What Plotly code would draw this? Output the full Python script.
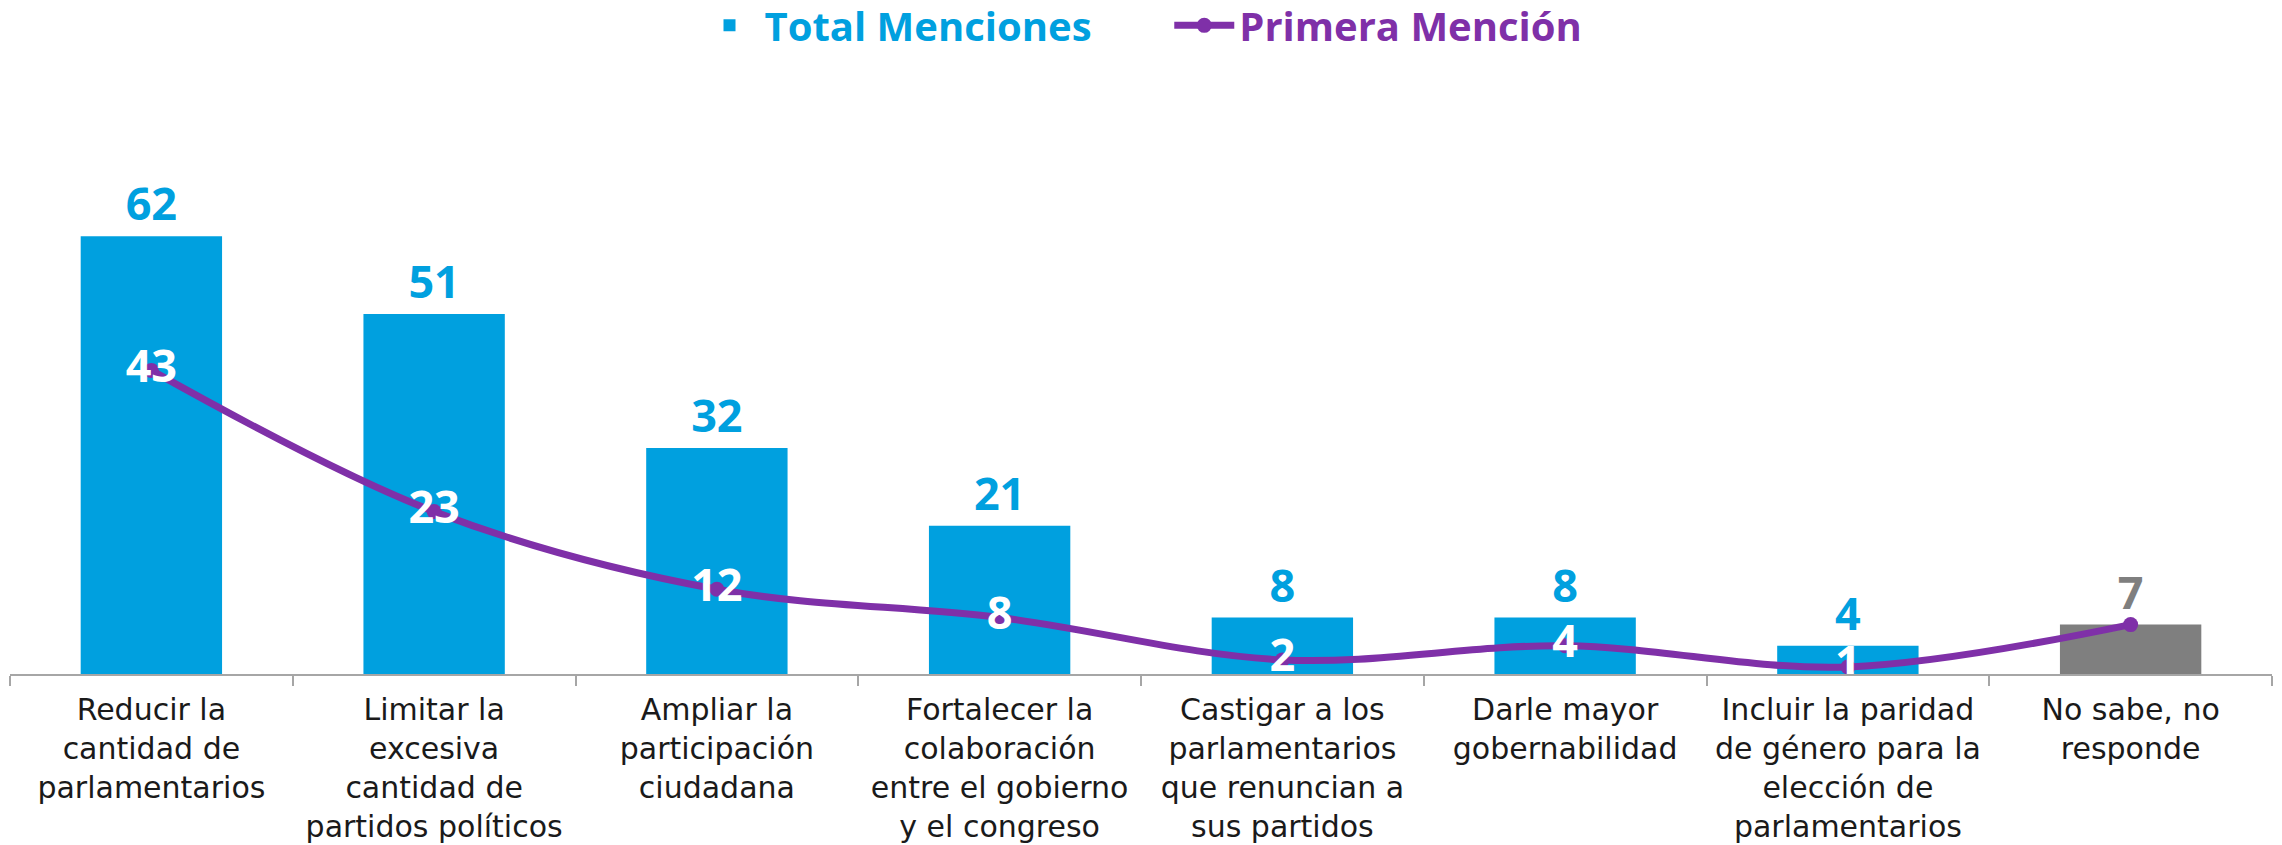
import plotly.graph_objects as go

categories = [
    "Reducir la<br>cantidad de<br>parlamentarios",
    "Limitar la<br>excesiva<br>cantidad de<br>partidos políticos",
    "Ampliar la<br>participación<br>ciudadana",
    "Fortalecer la<br>colaboración<br>entre el gobierno<br>y el congreso",
    "Castigar a los<br>parlamentarios<br>que renuncian a<br>sus partidos",
    "Darle mayor<br>gobernabilidad",
    "Incluir la paridad<br>de género para la<br>elección de<br>parlamentarios",
    "No sabe, no<br>responde",
]
total_menciones = [62, 51, 32, 21, 8, 8, 4, 7]
primera_mencion = [43, 23, 12, 8, 2, 4, 1, 7]

BLUE = "#00A0DF"
GREY = "#7F7F7F"
PURPLE = "#7F30A8"
NUM_FONT = "Open Sans"
LABEL_FONT = "DejaVu Sans"

bar_colors = [BLUE] * 7 + [GREY]

fig = go.Figure()

fig.add_trace(go.Bar(
    x=categories,
    y=total_menciones,
    name="<b><span style='color:%s'>Total Menciones</span></b>" % BLUE + "&nbsp;" * 7,
    marker=dict(color=bar_colors, line=dict(width=0)),
    text=total_menciones,
    textposition="outside",
    textfont=dict(family=NUM_FONT, size=45, color=bar_colors, weight="bold"),
    constraintext="none",
    cliponaxis=False,
))

fig.add_trace(go.Scatter(
    x=categories,
    y=primera_mencion,
    mode="lines+markers",
    name="<b><span style='color:%s'>Primera Mención</span></b>" % PURPLE,
    line=dict(color=PURPLE, width=7, shape="spline", smoothing=1),
    marker=dict(size=15, color=PURPLE),
    cliponaxis=False,
))

# white labels sit on the line points (the "No sabe" point has no label)
fig.add_trace(go.Scatter(
    x=categories[:7],
    y=primera_mencion[:7],
    mode="text",
    text=primera_mencion[:7],
    textposition="middle center",
    textfont=dict(family=NUM_FONT, size=45, color="white", weight="bold"),
    showlegend=False,
    cliponaxis=False,
))

fig.update_layout(
    width=2282,
    height=845,
    margin=dict(l=10, r=10, t=100, b=171),
    plot_bgcolor="white",
    paper_bgcolor="white",
    bargap=0.5,
    font=dict(family=LABEL_FONT, size=30, color="#1A1A1A"),
    legend=dict(
        orientation="h",
        x=0.5, xanchor="center",
        yref="container",
        y=0.97, yanchor="middle",
        font=dict(family=NUM_FONT, size=40),
        traceorder="normal",
        itemwidth=60,
    ),
    xaxis=dict(
        automargin=False,
        showline=True,
        linecolor="#A6A6A6",
        linewidth=2,
        ticks="outside",
        tickson="boundaries",
        ticklen=10,
        tickcolor="#A6A6A6",
        tickwidth=2,
        tickangle=0,
        ticklabelstandoff=8,
        tickfont=dict(family=LABEL_FONT, size=30, color="#1A1A1A"),
        showgrid=False,
    ),
    yaxis=dict(
        automargin=False,
        range=[0, 81.3],
        visible=False,
        showgrid=False,
    ),
)

# drop the browser's default page margin so the figure fills the window exactly
fig.write_html(
    "out.html",
    config={"displayModeBar": False},
    post_script="document.body.style.margin='0px';",
)
